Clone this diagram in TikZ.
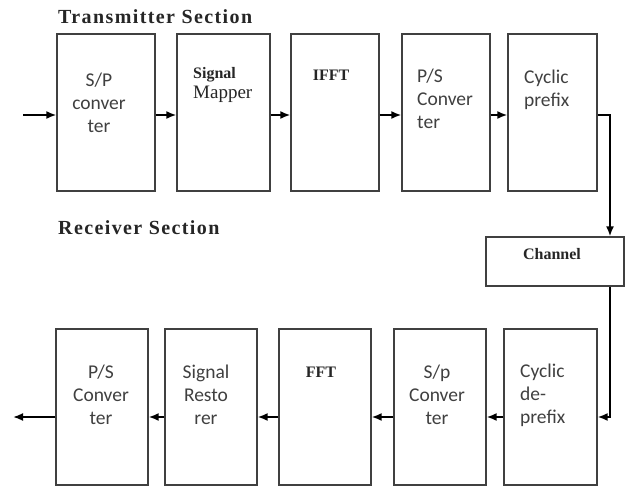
\documentclass[tikz,border=0pt]{standalone}
\usepackage{fontspec}
\setmainfont{Liberation Serif}
\newfontfamily\calib{Carlito}
\usetikzlibrary{arrows.meta}

\tikzset{
  blk/.style={draw=black!75, line width=1.3pt, fill=white, inner sep=0pt},
  sans/.style={font=\calib\fontsize{19.5}{23}\selectfont, text=black!75, inner sep=0pt},
  ser/.style={font=\bfseries\fontsize{16}{18}\selectfont, text=black!85, inner sep=0pt},
  ttl/.style={font=\bfseries\fontsize{20}{22}\selectfont\addfontfeature{LetterSpace=7}, text=black!85, anchor=west, inner sep=0pt},
  arr/.style={line width=1.8pt, -{Latex[length=10pt,width=8pt]}},
}

\begin{document}
\begin{tikzpicture}[x=1pt,y=-1pt]
  \useasboundingbox (0,0) rectangle (627,487);

  \coordinate (rowT) at (0,115);
  \coordinate (rowB) at (0,417);
  \coordinate (drop) at (610,0);
  \coordinate (in) at (23,115);
  \coordinate (out) at (13,417);

  % transmitter
  \node[ttl] (tx) at (58,17) {Transmitter Section};
  \node[blk, minimum width=98, minimum height=157] (t1) at (106,112.5) {};
  \node[blk, minimum width=93, minimum height=157] (t2) at (223.5,112.5) {};
  \node[blk, minimum width=88, minimum height=157] (t3) at (335,112.5) {};
  \node[blk, minimum width=88, minimum height=157] (t4) at (446,112.5) {};
  \node[blk, minimum width=89, minimum height=157] (t5) at (552.5,112.5) {};

  \node[sans, align=center] (t1txt) at (99,103) {S/P\\conver\\ter};
  \node[ser, align=left, anchor=west, font=\fontsize{19}{20}\selectfont] (t2txt) at (193,85)
    {{\bfseries\fontsize{16}{18}\selectfont Signal}\\Mapper};
  \node[ser] (t3txt) at (331,75) {IFFT};
  \node[sans, align=left, anchor=west] (t4txt) at (417,99) {P/S\\Conver\\ter};
  \node[sans, align=left, anchor=west] (t5txt) at (524,90) {Cyclic\\prefix};

  % channel
  \node[blk, minimum width=138, minimum height=49] (ch) at (555,261.5) {};
  \node[ser] (chtxt) at (552,254) {Channel};

  % receiver
  \node[ttl] (rx) at (58,228) {Receiver Section};
  \node[blk, minimum width=92, minimum height=156] (b1) at (102,407) {};
  \node[blk, minimum width=92, minimum height=156] (b2) at (211,407) {};
  \node[blk, minimum width=92, minimum height=156] (b3) at (325,407) {};
  \node[blk, minimum width=92, minimum height=156] (b4) at (440,407) {};
  \node[blk, minimum width=93, minimum height=156] (b5) at (550.5,407) {};

  \node[sans, align=center] (b1txt) at (101,395) {P/S\\Conver\\ter};
  \node[sans, align=center] (b2txt) at (206,395) {Signal\\Resto\\rer};
  \node[ser] (b3txt) at (321,372) {FFT};
  \node[sans, align=center] (b4txt) at (437,395) {S/p\\Conver\\ter};
  \node[sans, align=left, anchor=west] (b5txt) at (520,395) {Cyclic\\de-\\prefix};

  % arrows
  \draw[arr] (in) -- (t1.west |- rowT);
  \foreach \a/\b in {t1/t2,t2/t3,t3/t4,t4/t5}
    \draw[arr] (\a.east |- rowT) -- (\b.west |- rowT);
  \draw[arr] (t5.east |- rowT) -| (drop |- ch.north);
  \draw[arr] (drop |- ch.south) |- (b5.east |- rowB);
  \foreach \a/\b in {b5/b4,b4/b3,b3/b2,b2/b1}
    \draw[arr] (\a.west |- rowB) -- (\b.east |- rowB);
  \draw[arr] (b1.west |- rowB) -- (out);
\end{tikzpicture}
\end{document}
